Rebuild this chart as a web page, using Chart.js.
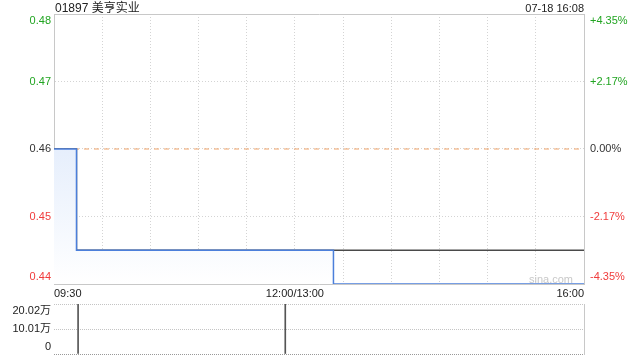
<!DOCTYPE html>
<html>
<head>
<meta charset="utf-8">
<script src="https://cdn.jsdelivr.net/npm/chart.js@4/dist/chart.umd.min.js"></script>
<style>
    html, body { margin: 0; padding: 0; background: #fff; }
    #wrap { position: relative; width: 640px; height: 360px; overflow: hidden; font-family: 'Liberation Sans', Arial, 'Noto Sans CJK SC', sans-serif; }
    #priceChart { position: absolute; left: 0; top: 0; }
    #volChart { position: absolute; left: 0; top: 300px; }
    .lbl { position: absolute; white-space: nowrap; line-height: 14px; color: #222; }
    #title { left: 55px; top: 1px; font-size: 12px; }
    #stamp { right: 56px; top: 1px; font-size: 11px; }
    #mark { right: 67px; top: 272px; font-size: 11px; color: #c8c8c8; }
</style>
</head>
<body>
<div id="wrap">
    <canvas id="priceChart" width="640" height="300"></canvas>
    <canvas id="volChart" width="640" height="60"></canvas>
    <div class="lbl" id="title">01897 美亨实业</div>
    <div class="lbl" id="stamp">07-18 16:08</div>
    <div class="lbl" id="mark">sina.com</div>
</div>
<script>
/* ================================================================
   DATA  (minutes since 09:30, lunch break removed)
   ================================================================ */
const prevClose = 0.46;
const sessionEnd = 330;

const priceTimes  = [0, 14, 174, 330];
const priceValues = [0.46, 0.445, 0.44, 0.44];

const avgTimes  = [0, 14, 330];
const avgValues = [0.46, 0.445, 0.445];

const volTimes  = [15, 144];
const volValues = [200200, 200200];

const priceTicks = [0.44, 0.45, 0.46, 0.47, 0.48];
const volTicks = [0, 100100, 200200];
const volTickLabels = ['0', '10.01万', '20.02万'];

const xGridMinutes = [0, 30, 60, 90, 120, 150, 180, 210, 240, 270, 300, 330];
const xLabelMinutes = [0, 150, 330];
const xLabelTexts = ['09:30', '12:00/13:00', '16:00'];

const UP = '#22a522';
const DOWN = '#f03c3c';
const FONT = "'Liberation Sans', Arial, 'Noto Sans CJK SC', sans-serif";

Chart.defaults.font.family = FONT;
Chart.defaults.animation = false;

const toPoints = (xs, ys) => xs.map((x, i) => ({ x: x, y: ys[i] }));

// fixed box sizes, no extra label padding eating into the plot
function fixBox(w, h) {
    return (s) => {
        if (w !== null) s.width = w;
        if (h !== null) s.height = h;
        s.paddingTop = 0; s.paddingBottom = 0;
        s.paddingLeft = 0; s.paddingRight = 0;
    };
}

// first/last tick labels pushed inside the plot, like the original
function edgeLabel(text, value, min, max) {
    if (Math.abs(value - max) < 1e-9) return ['', text];
    if (Math.abs(value - min) < 1e-9) return [text, ''];
    return text;
}

function tickColor(c) {
    const v = c.tick.value;
    if (v > prevClose + 1e-9) return UP;
    if (v < prevClose - 1e-9) return DOWN;
    return '#333';
}

/* ================================================================
   PRICE PANEL
   ================================================================ */
const priceMin = priceTicks[0];
const priceMax = priceTicks[priceTicks.length - 1];

new Chart(document.getElementById('priceChart'), {
    type: 'line',
    data: {
        datasets: [
            {
                label: 'price',
                data: toPoints(priceTimes, priceValues),
                stepped: true,
                borderColor: '#4b7fdb',
                borderWidth: 1.5,
                pointRadius: 0,
                fill: 'start',
                backgroundColor: (ctx) => {
                    const a = ctx.chart.chartArea;
                    if (!a) return 'rgba(0,0,0,0)';
                    const g = ctx.chart.ctx.createLinearGradient(0, a.top, 0, a.bottom);
                    g.addColorStop(0, 'rgba(205,222,249,1)');
                    g.addColorStop(1, 'rgba(255,255,255,1)');
                    return g;
                }
            },
            {
                label: 'avg',
                data: toPoints(avgTimes, avgValues),
                stepped: true,
                borderColor: '#4a4a4a',
                borderWidth: 1.5,
                pointRadius: 0,
                fill: false
            },
            {
                label: 'prev',
                data: toPoints([0, sessionEnd], [prevClose, prevClose]),
                borderColor: '#f0a46a',
                borderWidth: 1,
                borderDash: [5, 5],
                pointRadius: 0,
                fill: false
            }
        ]
    },
    options: {
        responsive: false,
        devicePixelRatio: 1,
        layout: { padding: 0 },
        plugins: { legend: { display: false }, tooltip: { enabled: false } },
        scales: {
            x: {
                type: 'linear', position: 'bottom', min: 0, max: sessionEnd,
                afterFit: fixBox(null, 16),
                afterBuildTicks: (s) => { s.ticks = xGridMinutes.map(v => ({ value: v })); },
                ticks: {
                    autoSkip: false, maxRotation: 0, align: 'inner', padding: 3,
                    color: '#222', font: { size: 11, lineHeight: 1.2 },
                    callback: (v) => {
                        const i = xLabelMinutes.indexOf(v);
                        return i >= 0 ? xLabelTexts[i] : '';
                    }
                },
                grid: {
                    drawTicks: false,
                    color: (c) => (c.tick && (c.tick.value === 0 || c.tick.value === sessionEnd)) ? 'rgba(0,0,0,0)' : '#d4d4d4'
                },
                border: { display: true, color: '#c8c8c8', dash: [1, 2] }
            },
            xt: {
                type: 'linear', position: 'top', min: 0, max: sessionEnd,
                afterFit: fixBox(null, 14),
                ticks: { display: false },
                grid: { display: false, drawTicks: false },
                border: { display: true, color: '#c8c8c8' }
            },
            y: {
                type: 'linear', position: 'left', min: priceMin, max: priceMax,
                afterFit: fixBox(54, null),
                afterBuildTicks: (s) => { s.ticks = priceTicks.map(v => ({ value: v })); },
                ticks: {
                    autoSkip: false, padding: 3, color: tickColor, font: { size: 11, lineHeight: 1.2 },
                    callback: (v) => edgeLabel(v.toFixed(2), v, priceMin, priceMax)
                },
                grid: {
                    drawTicks: false,
                    color: (c) => (c.tick && (Math.abs(c.tick.value - priceMin) < 1e-9 || Math.abs(c.tick.value - priceMax) < 1e-9)) ? 'rgba(0,0,0,0)' : '#d4d4d4'
                },
                border: { display: true, color: '#c8c8c8', dash: [1, 2] }
            },
            yr: {
                type: 'linear', position: 'right', min: priceMin, max: priceMax,
                afterFit: fixBox(56, null),
                afterBuildTicks: (s) => { s.ticks = priceTicks.map(v => ({ value: v })); },
                ticks: {
                    autoSkip: false, padding: 6, color: tickColor, font: { size: 11, lineHeight: 1.2 },
                    callback: (v) => {
                        const pct = (v - prevClose) / prevClose * 100;
                        const txt = (pct > 1e-9 ? '+' : '') + (Math.abs(pct) < 1e-9 ? 0 : pct).toFixed(2) + '%';
                        return edgeLabel(txt, v, priceMin, priceMax);
                    }
                },
                grid: { display: false, drawTicks: false },
                border: { display: true, color: '#c8c8c8' }
            }
        }
    }
});

/* ================================================================
   VOLUME PANEL
   ================================================================ */
const volMax = volTicks[volTicks.length - 1];

new Chart(document.getElementById('volChart'), {
    type: 'bar',
    data: {
        datasets: [{
            label: 'volume',
            data: toPoints(volTimes, volValues),
            backgroundColor: '#555',
            borderWidth: 0,
            barThickness: 1
        }]
    },
    options: {
        responsive: false,
        devicePixelRatio: 1,
        layout: { padding: { top: 4, bottom: 6 } },
        plugins: { legend: { display: false }, tooltip: { enabled: false } },
        scales: {
            x: {
                type: 'linear', min: 0, max: sessionEnd, offset: false,
                afterFit: fixBox(null, 0),
                afterBuildTicks: (s) => { s.ticks = [{ value: 0 }]; },
                ticks: { display: false },
                grid: { drawTicks: false, color: '#c4c4c4' },
                border: { display: false, dash: [1, 1] }
            },
            y: {
                type: 'linear', position: 'left', min: 0, max: volMax,
                afterFit: fixBox(54, null),
                afterBuildTicks: (s) => { s.ticks = volTicks.map(v => ({ value: v })); },
                ticks: {
                    autoSkip: false, padding: 3, color: '#222', font: { size: 11, lineHeight: 1.35 },
                    callback: (v) => edgeLabel(volTickLabels[volTicks.indexOf(v)], v, 0, volMax)
                },
                grid: {
                    drawTicks: false,
                    color: (c) => (c.tick && c.tick.value === 0) ? '#999' : '#c4c4c4'
                },
                border: { display: false, dash: [1, 1] }
            },
            yr: {
                type: 'linear', position: 'right', min: 0, max: volMax,
                afterFit: fixBox(56, null),
                ticks: { display: false },
                grid: { display: false, drawTicks: false },
                border: { display: true, color: '#c8c8c8' }
            }
        }
    }
});
</script>
</body>
</html>
